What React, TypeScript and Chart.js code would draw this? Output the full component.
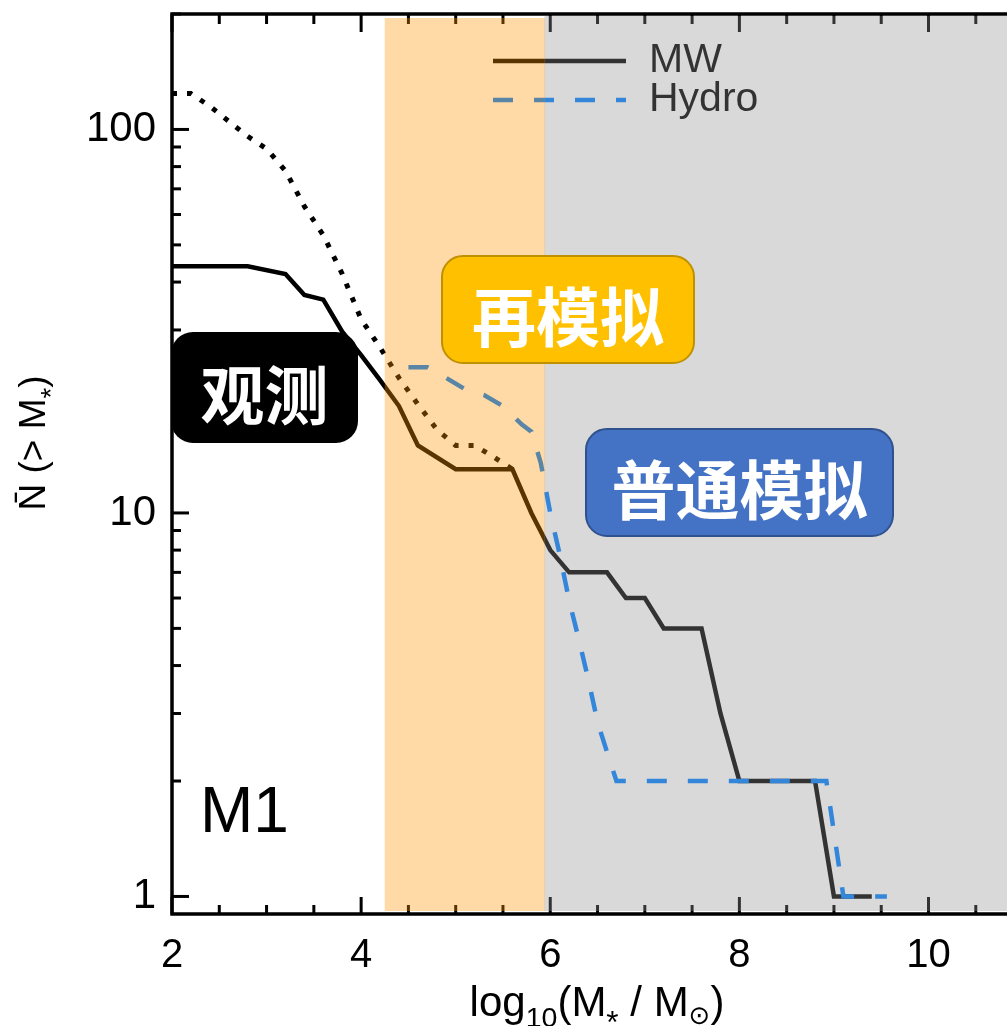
import React, { useEffect, useRef } from "react";
import { Chart, registerables } from "chart.js";

Chart.register(...registerables);

// ---------- data ----------
const xTickValues = [2, 4, 6, 8, 10];
const yTickValues = [1, 10, 100];

// MW (solid)
const mwX = [2.0, 2.8, 3.2, 3.4, 3.6, 3.8, 4.0, 4.2, 4.4, 4.6, 5.0, 5.6, 5.8, 6.0, 6.2, 6.6, 6.8, 7.0, 7.2, 7.6, 7.8, 8.0, 8.8, 9.0, 9.4];
const mwY = [44, 44, 42, 37, 36, 29.7, 25.8, 22.2, 19, 15, 13, 13, 10, 8, 7, 7, 6, 6, 5, 5, 3, 2, 2, 1, 1];

// MW all (dotted)
const dotX = [2.0, 2.2, 2.4, 2.6, 2.8, 3.0, 3.2, 3.4, 3.6, 3.8, 4.0, 4.2, 4.4, 4.6, 4.8, 5.0, 5.2, 5.4, 5.6];
const dotY = [124, 124, 115, 105, 96, 89, 78, 63, 53, 42, 32, 27, 22.5, 19.2, 16.5, 15, 15, 14, 13];

// Hydro (dashed)
const hydroX = [4.5, 4.7, 4.9, 5.1, 5.3, 5.5, 5.7, 5.8, 5.9, 6.0, 6.1, 6.2, 6.3, 6.4, 6.5, 6.6, 6.7, 8.92, 9.1, 9.56];
const hydroY = [24, 24, 22.5, 21, 20.3, 19, 17, 16.3, 13.5, 10, 7.8, 5.9, 4.7, 3.7, 2.85, 2.38, 2.0, 2, 1, 1];

const orangeBand = [4.25, 5.94];
const grayBand = [5.94, 10.83];

const X_MIN = 2;
const X_MAX = 10.83;
const Y_MIN = 0.9;
const Y_MAX = 200;

const legendItems = ["MW", "Hydro"];
const panelLabel = "M1";

const boxes = [
  { text: "观测", left: 171, top: 332, width: 187, height: 111, bg: "#000000", border: "none" },
  { text: "再模拟", left: 441, top: 255, width: 254, height: 109, bg: "#FFC000", border: "2px solid #BF9000" },
  { text: "普通模拟", left: 585, top: 428, width: 309, height: 109, bg: "#4472C4", border: "2px solid #2F528F" },
];

const LATIN = "'Liberation Sans', Arial, Helvetica, 'DejaVu Sans', sans-serif";

const zip = (xs: number[], ys: number[]) => xs.map((x, i) => ({ x, y: ys[i] }));

type Part = { t: string; s?: number; dy?: number };

function drawParts(ctx: CanvasRenderingContext2D, parts: Part[], cx: number, baseline: number, size: number) {
  let total = 0;
  const widths = parts.map((p) => {
    ctx.font = `${size * (p.s ?? 1)}px ${LATIN}`;
    const w = ctx.measureText(p.t).width;
    total += w;
    return w;
  });
  let x = cx - total / 2;
  ctx.textAlign = "left";
  ctx.textBaseline = "alphabetic";
  parts.forEach((p, i) => {
    ctx.font = `${size * (p.s ?? 1)}px ${LATIN}`;
    ctx.fillText(p.t, x, baseline + (p.dy ?? 0));
    x += widths[i];
  });
}

const decorPlugin = {
  id: "decor",
  afterDatasetsDraw(chart: any) {
    const ctx: CanvasRenderingContext2D = chart.ctx;
    const { left, top, bottom } = chart.chartArea;
    const xs = chart.scales.x;
    const ys = chart.scales.y;
    ctx.save();

    const line = (x1: number, y1: number, x2: number, y2: number) => {
      ctx.beginPath();
      ctx.moveTo(x1, y1);
      ctx.lineTo(x2, y2);
      ctx.stroke();
    };

    // inward ticks
    ctx.strokeStyle = "#000";
    ctx.lineWidth = 3;
    ctx.lineCap = "butt";
    for (let i = 0; ; i++) {
      const v = X_MIN + i * 0.5;
      if (v > X_MAX + 1e-9) break;
      const px = xs.getPixelForValue(v);
      const major = i % 4 === 0;
      line(px, bottom, px, bottom - (major ? 17 : 9));
      line(px, top, px, top + (major ? 18 : 10));
    }
    [1, 10, 100].forEach((d) => {
      for (let m = 1; m <= 9; m++) {
        const v = d * m;
        if (v < Y_MIN || v > Y_MAX) continue;
        const py = ys.getPixelForValue(v);
        line(left, py, left + (m === 1 ? 17 : 9), py);
      }
    });

    // legend
    ctx.lineWidth = 4.5;
    ctx.strokeStyle = "#000";
    ctx.setLineDash([]);
    line(493, 61, 626, 61);
    ctx.strokeStyle = "#0080FF";
    ctx.setLineDash([20, 21]);
    line(493, 100, 626, 100);
    ctx.setLineDash([]);
    ctx.fillStyle = "#000";
    ctx.font = `41px ${LATIN}`;
    ctx.textAlign = "left";
    ctx.textBaseline = "alphabetic";
    ctx.fillText(legendItems[0], 649, 72);
    ctx.fillText(legendItems[1], 649, 111);

    // panel label
    ctx.font = `64px ${LATIN}`;
    ctx.fillText(panelLabel, 200, 832);

    // shaded bands
    const o1 = xs.getPixelForValue(orangeBand[0]);
    const o2 = xs.getPixelForValue(orangeBand[1]);
    const g1 = xs.getPixelForValue(grayBand[0]);
    const g2 = xs.getPixelForValue(grayBand[1]);
    ctx.fillStyle = "rgba(255,145,0,0.35)";
    ctx.fillRect(o1, top + 4, o2 - o1 + 0.5, bottom - 3 - (top + 4));
    ctx.fillStyle = "rgba(146,146,146,0.35)";
    ctx.fillRect(g1, top + 2, g2 - g1, bottom - 3 - (top + 2));

    ctx.restore();
  },
  afterDraw(chart: any) {
    const ctx: CanvasRenderingContext2D = chart.ctx;
    const { left, right, top, bottom } = chart.chartArea;
    ctx.save();
    ctx.strokeStyle = "#000";
    ctx.lineWidth = 3.5;
    ctx.beginPath();
    ctx.moveTo(right, top);
    ctx.lineTo(left, top);
    ctx.lineTo(left, bottom);
    ctx.lineTo(right, bottom);
    ctx.stroke();

    ctx.fillStyle = "#000";
    // x title
    drawParts(
      ctx,
      [
        { t: "log" },
        { t: "10", s: 0.68, dy: 11 },
        { t: "(M" },
        { t: "*", s: 0.75, dy: 17 },
        { t: " / M" },
        { t: "⊙", s: 0.62, dy: 8 },
        { t: ")" },
      ],
      597,
      1016,
      42
    );

    // y title
    ctx.save();
    ctx.translate(45, 443);
    ctx.rotate(-Math.PI / 2);
    drawParts(
      ctx,
      [
        { t: "N\u0304" },
        { t: " (> M" },
        { t: "*", s: 0.75, dy: 15 },
        { t: ")" },
      ],
      0,
      0,
      37
    );
    ctx.restore();
    ctx.restore();
  },
};

export default function App() {
  const canvasRef = useRef<HTMLCanvasElement | null>(null);

  useEffect(() => {
    const canvas = canvasRef.current;
    if (!canvas) return;
    const chart = new Chart(canvas, {
      type: "line",
      data: {
        datasets: [
          {
            label: "Hydro",
            data: zip(hydroX, hydroY),
            borderColor: "#0080FF",
            borderWidth: 4.5,
            borderDash: [20, 21],
            pointRadius: 0,
            tension: 0,
            fill: false,
            order: 0,
          },
          {
            label: "MW",
            data: zip(mwX, mwY),
            borderColor: "#000000",
            borderWidth: 4.5,
            pointRadius: 0,
            tension: 0,
            fill: false,
            order: 1,
          },
          {
            label: "MW (all)",
            data: zip(dotX, dotY),
            borderColor: "#000000",
            borderWidth: 5,
            borderDash: [5, 10],
            pointRadius: 0,
            tension: 0,
            fill: false,
            order: 2,
          },
        ],
      },
      options: {
        responsive: false,
        animation: false,
        events: [],
        layout: { padding: { top: 14, left: 0, right: 0, bottom: 0 } },
        plugins: { legend: { display: false }, tooltip: { enabled: false } },
        scales: {
          x: {
            type: "linear",
            min: X_MIN,
            max: X_MAX,
            grid: { display: false, drawTicks: false },
            border: { display: false },
            afterBuildTicks: (s: any) => {
              s.ticks = xTickValues.map((v) => ({ value: v }));
            },
            afterFit: (s: any) => {
              s.height = 112;
              s.paddingLeft = 0;
              s.paddingRight = 0;
            },
            ticks: {
              color: "#000",
              font: { family: LATIN, size: 40 },
              padding: 18,
              maxRotation: 0,
              autoSkip: false,
              callback: (v: any) => String(v),
            },
          },
          y: {
            type: "logarithmic",
            min: Y_MIN,
            max: Y_MAX,
            grid: { display: false, drawTicks: false },
            border: { display: false },
            afterBuildTicks: (s: any) => {
              s.ticks = yTickValues.map((v) => ({ value: v }));
            },
            afterFit: (s: any) => {
              s.width = 172;
              s.paddingTop = 0;
              s.paddingBottom = 0;
            },
            ticks: {
              color: "#000",
              font: { family: LATIN, size: 42 },
              padding: 16,
              autoSkip: false,
              callback: (v: any) => String(v),
            },
          },
        },
      } as any,
      plugins: [decorPlugin as any],
    });
    return () => chart.destroy();
  }, []);

  return (
    <div style={{ position: "absolute", left: 0, top: 0, width: 1007, height: 1026, overflow: "hidden", background: "#fff" }}>
      <canvas ref={canvasRef} width={1007} height={1026} style={{ position: "absolute", left: 0, top: 0, display: "block" }} />
      {boxes.map((b) => (
        <div
          key={b.text}
          style={{
            position: "absolute",
            left: b.left,
            top: b.top,
            width: b.width,
            height: b.height,
            background: b.bg,
            border: b.border,
            borderRadius: 22,
            boxSizing: "border-box",
            display: "flex",
            alignItems: "center",
            justifyContent: "center",
            paddingTop: 6,
            color: "#fff",
            fontFamily: "'Noto Sans CJK SC', sans-serif",
            fontWeight: 700,
            fontSize: 64,
            lineHeight: 1,
            letterSpacing: 0,
          }}
        >
          {b.text}
        </div>
      ))}
    </div>
  );
}
